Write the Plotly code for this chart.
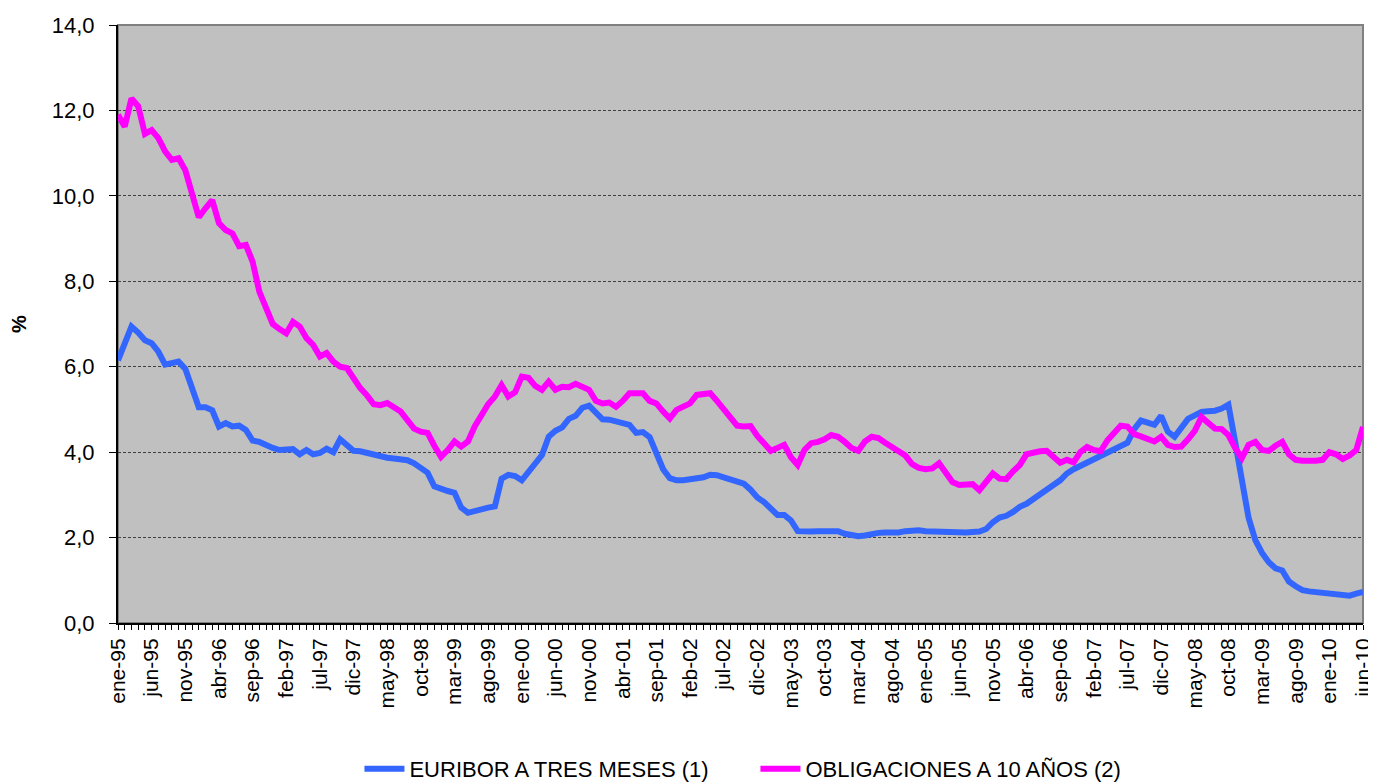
import plotly.graph_objects as go

# Etiquetas mensuales ene-95 ... jun-10
MESES = ["ene", "feb", "mar", "abr", "may", "jun", "jul", "ago", "sep", "oct", "nov", "dic"]
ANIOS = ["95", "96", "97", "98", "99", "00", "01", "02", "03", "04", "05", "06", "07", "08", "09", "10"]
months = [f"{m}-{a}" for a in ANIOS for m in MESES][:186]

# EURIBOR a tres meses (%), media mensual
euribor_3m = [
    6.15, 6.55, 6.94, 6.80, 6.62, 6.55, 6.35, 6.05, 6.08, 6.12, 5.95, 5.50,   # 1995
    5.05, 5.05, 4.98, 4.60, 4.68, 4.60, 4.62, 4.52, 4.27, 4.24, 4.15, 4.10,   # 1996
    4.05, 4.07, 4.07, 3.95, 4.05, 3.95, 3.98, 4.08, 4.00, 4.30, 4.17, 4.03,   # 1997
    4.02, 3.98, 3.93, 3.90, 3.87, 3.85, 3.83, 3.81, 3.74, 3.64, 3.52, 3.20,   # 1998
    3.13, 3.09, 3.05, 2.70, 2.58, 2.63, 2.68, 2.70, 2.73, 3.38, 3.47, 3.44,   # 1999
    3.34, 3.54, 3.75, 3.93, 4.36, 4.50, 4.58, 4.78, 4.85, 5.04, 5.09, 4.94,   # 2000
    4.77, 4.76, 4.71, 4.68, 4.64, 4.45, 4.47, 4.35, 3.98, 3.60, 3.39, 3.34,   # 2001
    3.34, 3.36, 3.39, 3.41, 3.47, 3.46, 3.41, 3.35, 3.31, 3.26, 3.12, 2.94,   # 2002
    2.83, 2.69, 2.53, 2.53, 2.40, 2.15, 2.13, 2.14, 2.15, 2.14, 2.16, 2.15,   # 2003
    2.09, 2.07, 2.03, 2.05, 2.09, 2.11, 2.12, 2.11, 2.12, 2.15, 2.17, 2.17,   # 2004
    2.15, 2.14, 2.14, 2.14, 2.13, 2.11, 2.12, 2.13, 2.14, 2.20, 2.36, 2.47,   # 2005
    2.51, 2.60, 2.72, 2.79, 2.89, 2.99, 3.10, 3.23, 3.34, 3.50, 3.60, 3.68,   # 2006
    3.75, 3.82, 3.89, 3.98, 4.07, 4.15, 4.22, 4.54, 4.74, 4.69, 4.64, 4.85,   # 2007
    4.48, 4.36, 4.60, 4.78, 4.86, 4.94, 4.96, 4.97, 5.02, 5.11, 4.24, 3.29,   # 2008
    2.46, 1.94, 1.64, 1.42, 1.28, 1.23, 0.97, 0.86, 0.77, 0.74, 0.72, 0.71,   # 2009
    0.68, 0.66, 0.64, 0.64, 0.69, 0.73,                                       # 2010
]

# Obligaciones a 10 años (%), media mensual
obligaciones_10a = [
    11.90, 11.62, 12.28, 12.10, 11.45, 11.54, 11.35, 11.04, 10.84, 10.88, 10.60, 10.10,  # 1995
    9.50, 9.71, 9.90, 9.36, 9.20, 9.12, 8.82, 8.85, 8.46, 7.76, 7.33, 7.00,             # 1996
    6.88, 6.78, 7.05, 6.94, 6.67, 6.51, 6.24, 6.32, 6.12, 6.00, 5.97, 5.72,             # 1997
    5.50, 5.33, 5.12, 5.10, 5.15, 5.05, 4.95, 4.75, 4.55, 4.48, 4.45, 4.15,             # 1998
    3.89, 4.05, 4.25, 4.13, 4.25, 4.60, 4.88, 5.12, 5.30, 5.57, 5.30, 5.40,             # 1999
    5.77, 5.74, 5.55, 5.46, 5.65, 5.46, 5.53, 5.52, 5.60, 5.53, 5.46, 5.20,             # 2000
    5.14, 5.16, 5.06, 5.20, 5.38, 5.38, 5.38, 5.20, 5.14, 4.95, 4.79, 4.99,             # 2001
    5.05, 5.14, 5.34, 5.36, 5.38, 5.20, 5.00, 4.83, 4.62, 4.60, 4.61, 4.38,             # 2002
    4.20, 4.03, 4.10, 4.17, 3.88, 3.70, 4.05, 4.21, 4.24, 4.30, 4.40, 4.36,             # 2003
    4.24, 4.10, 4.03, 4.25, 4.36, 4.33, 4.22, 4.12, 4.02, 3.92, 3.72, 3.63,             # 2004
    3.60, 3.62, 3.74, 3.50, 3.30, 3.23, 3.24, 3.25, 3.11, 3.30, 3.50, 3.38,             # 2005
    3.37, 3.55, 3.70, 3.95, 4.00, 4.02, 4.03, 3.90, 3.75, 3.82, 3.76, 4.00,             # 2006
    4.12, 4.05, 4.02, 4.27, 4.45, 4.62, 4.60, 4.42, 4.37, 4.30, 4.25, 4.36,             # 2007
    4.17, 4.12, 4.13, 4.30, 4.50, 4.82, 4.70, 4.55, 4.54, 4.40, 4.10, 3.86,             # 2008
    4.17, 4.24, 4.05, 4.03, 4.15, 4.24, 3.95, 3.82, 3.80, 3.79, 3.80, 3.82,             # 2009
    4.00, 3.95, 3.84, 3.92, 4.05, 4.59,                                                 # 2010
]

FONT = "Arial, 'Liberation Sans', sans-serif"

fig = go.Figure()
fig.add_trace(go.Scatter(
    x=months, y=euribor_3m, mode="lines",
    name="EURIBOR A TRES MESES (1)",
    line=dict(color="#3366FF", width=6),
))
fig.add_trace(go.Scatter(
    x=months, y=obligaciones_10a, mode="lines",
    name="OBLIGACIONES A 10 AÑOS (2)",
    line=dict(color="#FF00FF", width=6),
))

# borde gris del área de trazado
fig.add_shape(type="rect", xref="paper", yref="paper", x0=0, x1=1, y0=0, y1=1,
              line=dict(color="#808080", width=2), layer="below")

# la página deja 8 px de margen alrededor del gráfico
fig.update_layout(
    width=1368,
    height=774,
    margin=dict(l=110, r=13, t=17, b=159, autoexpand=False),
    paper_bgcolor="white",
    plot_bgcolor="#C0C0C0",
    separators=",.",
    font=dict(family=FONT, color="black"),
    showlegend=True,
    legend=dict(
        orientation="h", x=0.512, xanchor="center", y=-0.244, yanchor="middle",
        font=dict(size=22), itemwidth=40, entrywidth=341, entrywidthmode="pixels",
    ),
)

fig.update_xaxes(
    type="category",
    tickmode="array",
    tickvals=months,
    ticktext=[m if i % 5 == 0 else "" for i, m in enumerate(months)],
    tickangle=-90,
    tickfont=dict(size=21),
    ticks="outside", ticklen=5, tickcolor="black", tickwidth=1,
    showline=True, linecolor="black", linewidth=2,
    showgrid=False,
    range=[0, len(months) - 1],
)

fig.update_yaxes(
    range=[0, 14], dtick=2, tickformat=".1f",
    tickfont=dict(size=22),
    ticks="outside", ticklen=7, tickcolor="black",
    ticklabelstandoff=10,
    showline=True, linecolor="black", linewidth=2,
    showgrid=True, gridcolor="#404040", gridwidth=1, griddash="3px,2px",
    zeroline=False,
    title=dict(text="<b>%</b>", font=dict(size=20), standoff=20),
)

fig.write_html("out.html")
